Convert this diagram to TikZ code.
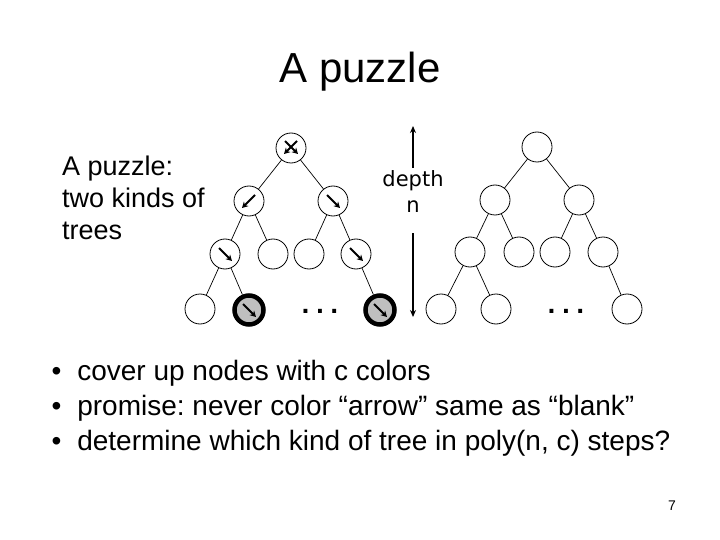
\documentclass[tikz,border=0pt]{standalone}
\usepackage{fontspec}
\setmainfont{Liberation Sans}
\newfontfamily\handfont{DejaVu Sans}
\usetikzlibrary{arrows.meta}
\frenchspacing
\begin{document}
\begin{tikzpicture}[x=1pt,y=-1pt,
  vert/.style={circle, draw, line width=0.8pt, minimum size=30pt, inner sep=0pt},
  colored/.style={vert, fill=black!25, line width=4.5pt, minimum size=29pt},
  ptr/.style={-{Stealth[length=6pt,width=6.5pt]}, line width=1.8pt},
  edge/.style={line width=0.7pt}]
\useasboundingbox (0,0) rectangle (720,540);
% title and left text
\node[anchor=base, font=\fontsize{42}{48}\selectfont] (title) at (360,83) {A puzzle};
\node[anchor=north west, inner sep=0pt, align=left, font=\fontsize{27}{32}\selectfont] (intro) at (62,156) {A puzzle:\\two kinds of\\trees};
% left tree
\node[vert] (lroot) at (291,148) {};
\node[vert] (la) at (249,201) {};
\node[vert] (lb) at (333,201) {};
\node[vert] (laa) at (225,254) {};
\node[vert] (lab) at (273,254) {};
\node[vert] (lba) at (309,254) {};
\node[vert] (lbb) at (356,254) {};
\node[vert] (laaa) at (200,309) {};
\node[colored] (laab) at (249,310) {};
\node[colored] (lbbb) at (380,310) {};
\node[anchor=base, font=\handfont\bfseries\fontsize{22}{26}\selectfont] (ldots) at (320,313) {.\hspace{6pt}.\hspace{6pt}.};
\draw[edge] (lroot) -- (la);
\draw[edge] (lroot) -- (lb);
\draw[edge] (la) -- (laa);
\draw[edge] (la) -- (lab);
\draw[edge] (lb) -- (lba);
\draw[edge] (lb) -- (lbb);
\draw[edge] (laa) -- (laaa);
\draw[edge] (laa) -- (laab);
\draw[edge] (lbb) -- (lbbb);
% arrows in the nodes
\draw[ptr] ([shift={(6,-7)}]lroot.center) -- ([shift={(-7,6)}]lroot.center);
\draw[ptr] ([shift={(-6,-7)}]lroot.center) -- ([shift={(7,6)}]lroot.center);
\draw[ptr] ([shift={(6,-6)}]la.center) -- ([shift={(-7,7)}]la.center);
\foreach \v in {lb,laa,lbb,laab,lbbb}
  \draw[ptr] ([shift={(-6,-6)}]\v.center) -- ([shift={(7,7)}]\v.center);
% depth
\node[anchor=north, inner sep=0pt, align=center, font=\handfont\fontsize{21}{26}\selectfont] (depth) at (413,170) {depth\\n};
\coordinate (dtop) at (413,126);
\coordinate (dbot) at (413,317);
\coordinate (gtop) at (413,168);
\coordinate (gbot) at (413,233);
\draw[-{Stealth[length=7pt,width=6pt]}, line width=1.5pt] (gtop) -- (dtop);
\draw[-{Stealth[length=7pt,width=6pt]}, line width=1.5pt] (gbot) -- (dbot);
% right tree
\node[vert] (rroot) at (537,147) {};
\node[vert] (ra) at (495,200) {};
\node[vert] (rb) at (579,200) {};
\node[vert] (raa) at (470,252) {};
\node[vert] (rab) at (519,252) {};
\node[vert] (rba) at (555,252) {};
\node[vert] (rbb) at (603,252) {};
\node[vert] (raaa) at (441,309) {};
\node[vert] (raab) at (496,309) {};
\node[vert] (rbbb) at (627,309) {};
\node[anchor=base, font=\handfont\bfseries\fontsize{22}{26}\selectfont] (rdots) at (566,313) {.\hspace{6pt}.\hspace{6pt}.};
\draw[edge] (rroot) -- (ra);
\draw[edge] (rroot) -- (rb);
\draw[edge] (ra) -- (raa);
\draw[edge] (ra) -- (rab);
\draw[edge] (rb) -- (rba);
\draw[edge] (rb) -- (rbb);
\draw[edge] (raa) -- (raaa);
\draw[edge] (raa) -- (raab);
\draw[edge] (rbb) -- (rbbb);
% bullets
\node[anchor=base west, font=\fontsize{28}{32}\selectfont] (item1) at (48,380) {\textbullet\hspace{16pt}cover up nodes with c colors};
\node[anchor=base west, font=\fontsize{28}{32}\selectfont] (item2) at (48,415) {\textbullet\hspace{16pt}promise: never color “arrow” same as “blank”};
\node[anchor=base west, font=\fontsize{28}{32}\selectfont] (item3) at (48,450) {\textbullet\hspace{16pt}determine which kind of tree in poly(n, c) steps?};
\node[anchor=base, font=\fontsize{14}{16}\selectfont] (page) at (672,510) {7};
\end{tikzpicture}
\end{document}
